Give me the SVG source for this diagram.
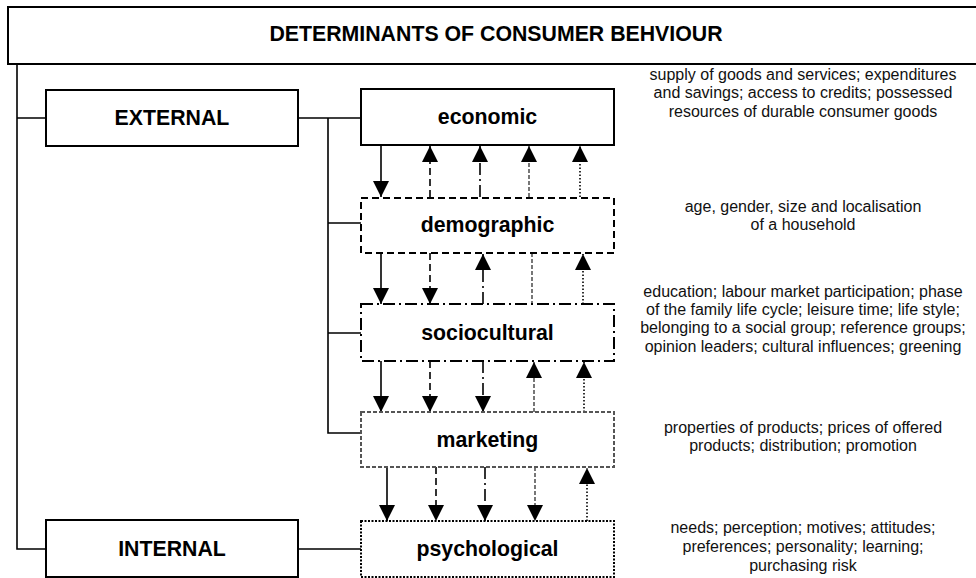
<svg xmlns="http://www.w3.org/2000/svg" width="976" height="578" viewBox="0 0 976 578">
  <style>
    .box { fill: #fff; stroke: #000; stroke-width: 2; }
    .b-dash { stroke-dasharray: 7 4; }
    .b-dashdot { stroke-dasharray: 12 4 2 4; }
    .b-short { stroke: #555; stroke-dasharray: 4 2; }
    .b-dot { stroke-dasharray: 2 1.5; }
    .wire { fill: none; stroke: #000; stroke-width: 1.6; }
    .arr { fill: none; stroke: #000; stroke-width: 1.6; }
    .a-dash { stroke-dasharray: 7 4; }
    .a-dashdot { stroke-dasharray: 12 4 2 4; }
    .a-short { stroke: #555; stroke-dasharray: 4 2; }
    .a-dot { stroke-dasharray: 1.5 2; }
    .down { marker-end: url(#head); }
    .title { font-family: "Liberation Sans", Arial, sans-serif; font-weight: bold; font-size: 21.3px; fill: #000; text-anchor: middle; }
    .label { font-family: "Liberation Sans", Arial, sans-serif; font-weight: bold; font-size: 21.3px; fill: #000; text-anchor: middle; }
    .note { font-family: "Liberation Sans", Arial, sans-serif; font-size: 16px; fill: #111; text-anchor: middle; }
  </style>
  <defs>
    <marker id="head" markerUnits="userSpaceOnUse" markerWidth="17" markerHeight="17" refX="16" refY="8" orient="auto">
      <path d="M0,0 L16,8 L0,16 Z" fill="#000"/>
    </marker>
  </defs>

  <!-- heading -->
  <g id="title">
    <rect class="box" x="8" y="7" width="990" height="57"/>
    <text class="title" x="496" y="41">DETERMINANTS OF CONSUMER BEHVIOUR</text>
  </g>

  <!-- connectors: tree lines and influence arrows -->
  <g id="connectors">
    <path class="wire" d="M17,64 V549 H46 M17,118 H46 M298,118 H361 M328,118 V433 H361 M328,223 H361 M328,333 H361 M298,549 H361"/>

    <!-- economic / demographic -->
    <line class="arr down" x1="381" y1="145" x2="381" y2="197"/>
    <line class="arr a-dash down" x1="430" y1="197" x2="430" y2="146"/>
    <line class="arr a-dashdot down" x1="480" y1="197" x2="480" y2="146"/>
    <line class="arr a-short down" x1="529" y1="197" x2="529" y2="146"/>
    <line class="arr a-dot down" x1="580" y1="197" x2="580" y2="146"/>

    <!-- demographic / sociocultural -->
    <line class="arr down" x1="381" y1="253" x2="381" y2="304"/>
    <line class="arr a-dash down" x1="430" y1="253" x2="430" y2="304"/>
    <line class="arr a-dashdot down" x1="483" y1="304" x2="483" y2="254"/>
    <line class="arr a-short" x1="532" y1="253" x2="532" y2="304"/>
    <line class="arr a-dot down" x1="583" y1="304" x2="583" y2="254"/>

    <!-- sociocultural / marketing -->
    <line class="arr down" x1="381" y1="361" x2="381" y2="412"/>
    <line class="arr a-dash down" x1="430" y1="361" x2="430" y2="412"/>
    <line class="arr a-dashdot down" x1="483" y1="361" x2="483" y2="412"/>
    <line class="arr a-short down" x1="534" y1="412" x2="534" y2="362"/>
    <line class="arr a-dot down" x1="584" y1="412" x2="584" y2="362"/>

    <!-- marketing / psychological -->
    <line class="arr down" x1="387" y1="467" x2="387" y2="521"/>
    <line class="arr a-dash down" x1="436" y1="467" x2="436" y2="521"/>
    <line class="arr a-dashdot down" x1="485" y1="467" x2="485" y2="521"/>
    <line class="arr a-short down" x1="535" y1="467" x2="535" y2="521"/>
    <line class="arr a-dot down" x1="587" y1="521" x2="587" y2="468"/>
  </g>

  <g id="external">
    <rect class="box" x="46" y="90" width="252" height="56"/>
    <text class="label" x="172" y="125">EXTERNAL</text>
  </g>

  <g id="internal">
    <rect class="box" x="46" y="520" width="252" height="57"/>
    <text class="label" x="172" y="556">INTERNAL</text>
  </g>

  <g id="economic">
    <rect class="box" x="361" y="89" width="253" height="56"/>
    <text class="label" x="487.5" y="124">economic</text>
    <text class="note" x="803" y="80">supply of goods and services; expenditures</text>
    <text class="note" x="803" y="98">and savings; access to credits; possessed</text>
    <text class="note" x="803" y="117">resources of durable consumer goods</text>
  </g>

  <g id="demographic">
    <rect class="box b-dash" x="361" y="198" width="253" height="55"/>
    <text class="label" x="487.5" y="232">demographic</text>
    <text class="note" x="803" y="212">age, gender, size and localisation</text>
    <text class="note" x="803" y="230">of a household</text>
  </g>

  <g id="sociocultural">
    <rect class="box b-dashdot" x="361" y="304" width="253" height="57"/>
    <text class="label" x="487.5" y="340">sociocultural</text>
    <text class="note" x="803" y="297">education; labour market participation; phase</text>
    <text class="note" x="803" y="315">of the family life cycle; leisure time; life style;</text>
    <text class="note" x="803" y="333">belonging to a social group; reference groups;</text>
    <text class="note" x="803" y="352">opinion leaders; cultural influences; greening</text>
  </g>

  <g id="marketing">
    <rect class="box b-short" x="361" y="412" width="253" height="55"/>
    <text class="label" x="487.5" y="447">marketing</text>
    <text class="note" x="803" y="433">properties of products; prices of offered</text>
    <text class="note" x="803" y="451">products; distribution; promotion</text>
  </g>

  <g id="psychological">
    <rect class="box b-dot" x="361" y="521" width="253" height="56"/>
    <text class="label" x="487.5" y="556">psychological</text>
    <text class="note" x="803" y="533">needs; perception; motives; attitudes;</text>
    <text class="note" x="803" y="552">preferences; personality; learning;</text>
    <text class="note" x="803" y="571">purchasing risk</text>
  </g>
</svg>
